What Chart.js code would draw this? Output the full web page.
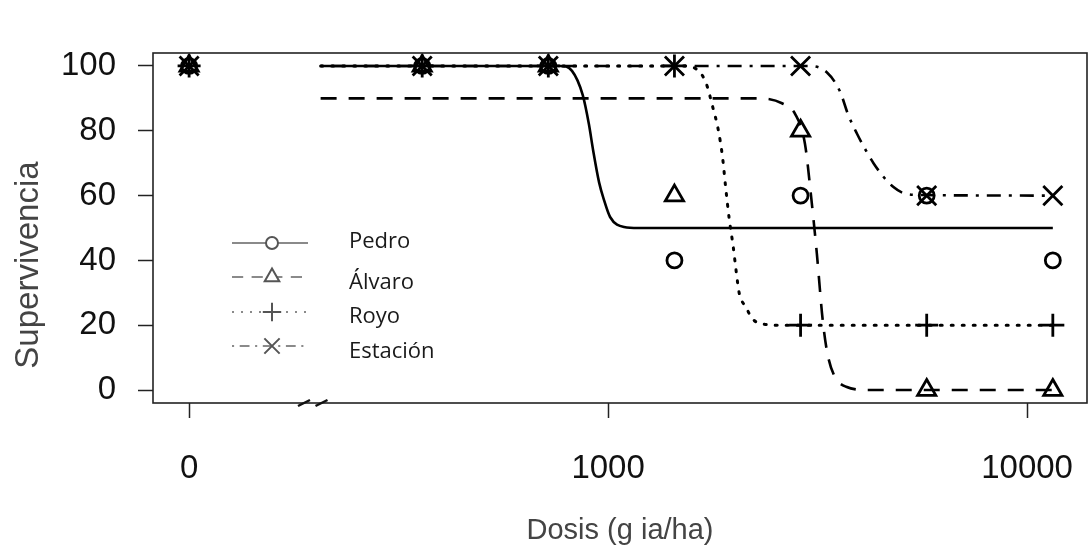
<!DOCTYPE html>
<html>
<head>
<meta charset="utf-8">
<script src="https://cdn.jsdelivr.net/npm/chart.js@4.4.1/dist/chart.umd.min.js"></script>
<style>
  html, body { margin: 0; padding: 0; background: #fff; }
</style>
</head>
<body>
<canvas id="c" width="1089" height="553"></canvas>
<script>
/* Dose-response survival curves for four populations, log dose axis with a broken origin. */

// dose levels (g ia/ha); 0 is the untreated control
const doses = [0, 360, 720, 1440, 2880, 5760, 11520];
const seriesNames = ['Pedro', 'Álvaro', 'Royo', 'Estación'];

// observed survival (%)
const pedroObs    = [100, 100, 100, 40, 60, 60, 40];
const alvaroObs   = [100, 100, 100, 60, 80, 0, 0];
const royoObs     = [100, 100, 100, 100, 20, 20, 20];
const estacionObs = [100, 100, 100, 100, 100, 60, 60];

// fitted curves, sampled along dose
const pedroFitDose    = [206, 770, 820, 870, 900, 921, 952, 978, 1011, 1092, 1180, 11520];
const pedroFitResp    = [100, 100, 98.5, 91, 82, 74, 64, 58.6, 53.4, 50.3, 50, 50];
const alvaroFitDose   = [206, 2300, 2600, 2800, 2950, 3050, 3150, 3250, 3330, 3450, 3700, 4200, 11520];
const alvaroFitResp   = [90, 90, 88.5, 85, 76, 60, 42, 22, 12, 5, 1, 0, 0];
const royoFitDose     = [206, 1500, 1600, 1710, 1780, 1830, 1875, 1910, 1945, 1990, 2020, 2055, 2135, 2210, 2360, 2600, 11520];
const royoFitResp     = [100, 100, 99.5, 95, 87, 80.6, 72, 62, 53, 44, 37, 30, 25.5, 22, 20.3, 20, 20];
const estacionFitDose = [206, 3000, 3330, 3580, 3740, 3930, 4100, 4300, 4530, 4790, 5060, 5500, 11520];
const estacionFitResp = [100, 100, 98, 92, 85, 79, 74.5, 70, 66, 62.7, 60.8, 60.2, 60];

const xTicks = [0, 1000, 10000];
const yTicks = [0, 20, 40, 60, 80, 100];
const xTitle = 'Dosis (g ia/ha)';
const yTitle = 'Supervivencia';

// where dose 0 sits on the log axis
const ZERO_POS = 100;
const toX = (d) => (d === 0 ? ZERO_POS : d);

const pts = (xs, ys) => xs.map((x, i) => ({ x: toX(x), y: ys[i] }));

const styles = [
  { dash: [], point: 'circle', radius: 7.5 },
  { dash: [16, 12], point: 'triangle', radius: 10.5 },
  { dash: [2, 9], point: 'cross', radius: 11.5 },
  { dash: [3, 8, 14, 8], point: 'crossRot', radius: 13.5 },
];
const observed = [pedroObs, alvaroObs, royoObs, estacionObs];
const fits = [
  [pedroFitDose, pedroFitResp],
  [alvaroFitDose, alvaroFitResp],
  [royoFitDose, royoFitResp],
  [estacionFitDose, estacionFitResp],
];

const datasets = [];
seriesNames.forEach((name, i) => {
  datasets.push({
    label: name + ' fit',
    data: pts(fits[i][0], fits[i][1]),
    showLine: true,
    borderColor: '#000',
    borderWidth: i === 2 ? 3 : 2.6,
    borderDash: styles[i].dash,
    borderCapStyle: i === 2 ? 'round' : 'butt',
    cubicInterpolationMode: 'monotone',
    pointRadius: 0,
  });
  datasets.push({
    label: name,
    data: pts(doses, observed[i]),
    showLine: false,
    pointStyle: styles[i].point,
    pointRadius: styles[i].radius,
    pointBorderWidth: 2.8,
    pointBorderColor: '#000',
    pointBackgroundColor: 'transparent',
  });
});

const FAMILY = "'Liberation Sans', Arial, sans-serif";
const axisFont = { family: FAMILY, size: 33 };

// plot frame, y title, axis break marks and the sample legend
const decor = {
  id: 'decor',
  afterDraw(chart) {
    const { ctx, chartArea: a, scales: { x } } = chart;
    ctx.save();
    ctx.strokeStyle = '#222';
    ctx.lineWidth = 1.6;
    ctx.strokeRect(a.left, a.top, a.right - a.left, a.bottom - a.top);

    ctx.save();
    ctx.translate(29, 265);
    ctx.rotate(-Math.PI / 2);
    ctx.font = '33px ' + FAMILY;
    ctx.fillStyle = '#444';
    ctx.textAlign = 'center';
    ctx.textBaseline = 'middle';
    ctx.fillText(yTitle, 0, 0);
    ctx.restore();

    // axis break
    ctx.strokeStyle = '#111';
    ctx.lineWidth = 2.5;
    [188, 207].forEach((d) => {
      const px = x.getPixelForValue(d);
      ctx.beginPath();
      ctx.moveTo(px - 6, a.bottom + 3);
      ctx.lineTo(px + 6, a.bottom - 3);
      ctx.stroke();
    });

    // legend
    const lineY = [243, 277, 312, 346];
    const textY = [242, 283, 317, 352];
    seriesNames.forEach((name, i) => {
      ctx.strokeStyle = '#8a8a8a';
      ctx.lineWidth = 2;
      ctx.setLineDash(i === 2 ? [2, 7] : styles[i].dash.map((v) => v * 0.7));
      ctx.beginPath();
      ctx.moveTo(232, lineY[i]);
      ctx.lineTo(308, lineY[i]);
      ctx.stroke();
      ctx.setLineDash([]);
      ctx.fillStyle = '#fff';
      ctx.strokeStyle = '#555';
      Chart.helpers.drawPoint(ctx, {
        pointStyle: styles[i].point,
        radius: styles[i].radius * 0.8,
        rotation: 0,
        borderWidth: 2,
      }, 272, lineY[i]);
      ctx.fillStyle = '#1a1a1a';
      ctx.font = "22px 'Open Sans', sans-serif";
      ctx.textBaseline = 'middle';
      ctx.fillText(name, 349, textY[i]);
    });
    ctx.restore();
  },
};

new Chart(document.getElementById('c'), {
  type: 'scatter',
  data: { datasets },
  options: {
    responsive: false,
    animation: false,
    layout: { autoPadding: false, padding: { top: 53, right: 2, left: 0, bottom: 0 } },
    plugins: { legend: { display: false }, tooltip: { enabled: false } },
    scales: {
      x: {
        type: 'logarithmic',
        min: 82,
        max: 13900,
        afterBuildTicks: (s) => { s.ticks = xTicks.map((v) => ({ value: toX(v) })); },
        afterFit: (s) => { s.height = 150; s.paddingLeft = 0; s.paddingRight = 0; },
        ticks: {
          callback: (v) => (v === ZERO_POS ? '0' : String(v)),
          font: axisFont,
          color: '#111',
          padding: 31,
          maxRotation: 0,
          autoSkip: false,
        },
        grid: { drawOnChartArea: false, drawTicks: true, tickLength: 15, tickColor: '#222', tickWidth: 1.5 },
        border: { display: false },
        title: { display: true, text: xTitle, font: { family: FAMILY, size: 29 }, color: '#444', padding: { bottom: 5, top: 0 } },
      },
      y: {
        min: -4,
        max: 104,
        afterBuildTicks: (s) => { s.ticks = yTicks.map((v) => ({ value: v })); },
        afterFit: (s) => { s.width = 153; s.paddingTop = 0; s.paddingBottom = 0; },
        ticks: { font: axisFont, color: '#111', padding: 22 },
        grid: { drawOnChartArea: false, drawTicks: true, tickLength: 15, tickColor: '#222', tickWidth: 1.5 },
        border: { display: false },
      },
    },
  },
  plugins: [decor],
});
</script>
</body>
</html>
